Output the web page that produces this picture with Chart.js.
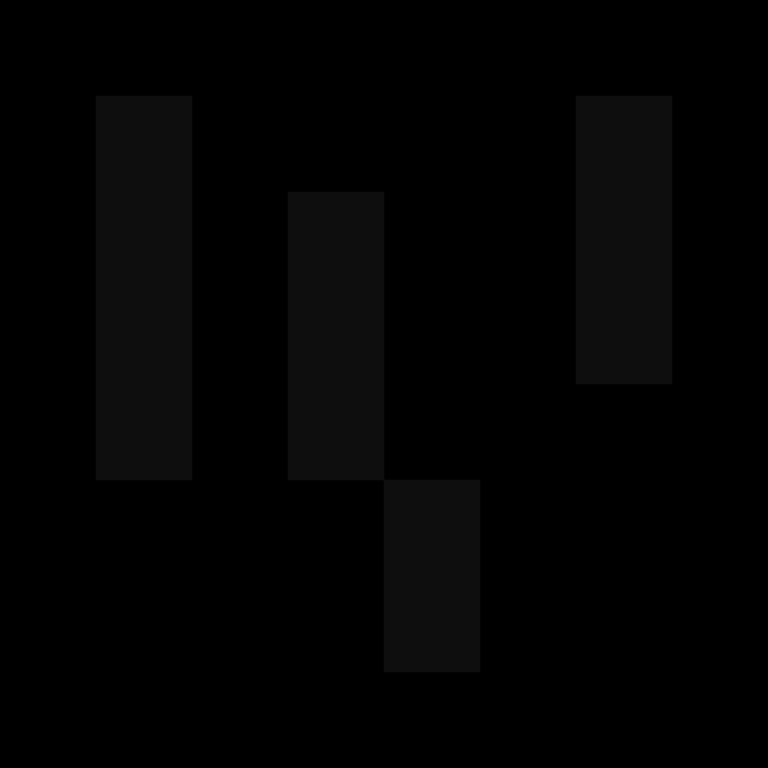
<!DOCTYPE html>
<html>
<head>
<meta charset="utf-8">
<script src="https://cdn.jsdelivr.net/npm/chart.js@4"></script>
<style>
    html, body { margin: 0; padding: 0; background: #000; }
    #wrap { width: 768px; height: 768px; }
</style>
</head>
<body>
<div id="wrap"><canvas id="chart" width="768" height="768"></canvas></div>
<script>
// categories (8 equal columns) and floating bar ranges [low, high]
const categories = ['a', 'b', 'c', 'd', 'e', 'f', 'g', 'h'];
const lows  = [null, 3, null, 3, 1, null, 4, null];
const highs = [null, 7, null, 6, 3, null, 7, null];

const ranges = categories.map((c, i) => (lows[i] === null ? null : [lows[i], highs[i]]));

new Chart(document.getElementById('chart'), {
    type: 'bar',
    data: {
        labels: categories,
        datasets: [{
            data: ranges,
            backgroundColor: '#0e0e0e',
            borderWidth: 0,
            barPercentage: 1,
            categoryPercentage: 1
        }]
    },
    options: {
        responsive: false,
        animation: false,
        layout: { padding: 0 },
        plugins: { legend: { display: false }, tooltip: { enabled: false } },
        scales: {
            x: { display: false, grid: { display: false } },
            y: { display: false, min: 0, max: 8, grid: { display: false } }
        }
    }
});
</script>
</body>
</html>
